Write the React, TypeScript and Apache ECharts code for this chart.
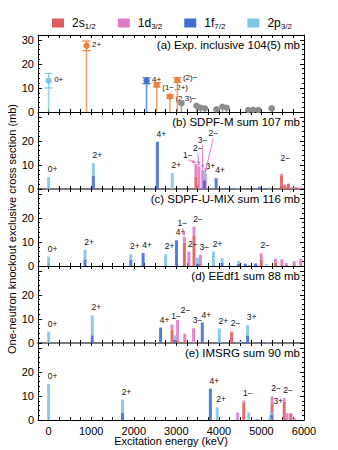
import React, { useEffect, useRef } from 'react';
import * as echarts from 'echarts';

const FONT = '"Liberation Sans", Arial, Helvetica, sans-serif';

// orbital components (stack order bottom -> top)
const COMPONENTS = ['2s1/2', '1d3/2', '1f7/2', '2p3/2'];
const COMP_COLORS = ['#de5b60', '#e07cc5', '#3f6fd6', '#7fc7e6'];
const ORANGE = '#f0803e';
const GRAY = '#8c8c8c';

// ---- panel (a): experiment ----
const expE = [0, 890, 2300, 2540, 2850, 3025, 3120, 3475, 3570, 3670, 3945, 4085, 4180, 4690, 4805, 4925, 5240];
const expVal = [13.0, 27.5, 13.0, 11.3, 6.4, 13.3, 3.6, 2.6, 1.8, 1.5, 1.1, 2.2, 1.8, 0.8, 0.9, 0.8, 1.5];
const expErr = [3.0, 2.0, 1.2, 0.9, 0.7, 1.0, 0.5, 0.5, 0.5, 0.5, 0.5, 0.5, 0.5, 0.4, 0.4, 0.4, 0.5];
const expKind = ['p', 'x', 'f', 'x', 'x', 'x', 'g', 'g', 'g', 'g', 'g', 'g', 'g', 'g', 'g', 'g', 'g'];
const expLabels = ['0+', '2+', '4+', '(1−,2+)', '(2,3)−', '(2)−', '', '', '', '', '', '', '', '', '', '', ''];

// ---- panel (b): SDPF-M ----
const sdpfmE = [0, 1050, 2555, 2905, 3460, 3530, 3620, 3660, 3680, 3935, 4170, 4440, 4640, 4950, 5180, 5470, 5550, 5635, 5730, 5805, 5900];
const sdpfmS = [0, 0, 0, 0, 5.0, 0, 0, 0, 0, 0, 0, 0, 0, 0, 0, 5.6, 1.6, 2.2, 0, 0.7, 0];
const sdpfmD = [0, 0, 0, 0, 5.5, 9.4, 8.0, 0, 6.5, 0, 0, 0, 0, 0, 0, 0.7, 0.3, 0, 0.8, 0, 0.6];
const sdpfmF = [0, 5.6, 19.6, 0, 0, 0, 0, 3.6, 0, 4.5, 0.5, 0, 0.4, 0.9, 0, 0, 0, 0, 0, 0, 0];
const sdpfmP = [5.0, 5.1, 0, 6.6, 0, 0, 0, 3.8, 0, 0, 0, 0.4, 0, 0, 0.6, 0, 0, 0, 0, 0, 0];
const sdpfmLabels = ['0+', '2+', '4+', '2+', '1−', '2−', '3−', '3+', '2−', '4+', '', '', '', '', '', '2−', '', '', '', '', ''];

// ---- panel (c): SDPF-U-MIX ----
const sdpfuE = [0, 855, 1205, 1930, 2220, 2750, 3005, 3190, 3295, 3415, 3495, 3565, 3875, 4075, 4250, 4465, 4620, 4715, 4865, 4995, 5120, 5330, 5480, 5585, 5770, 5925];
const sdpfuS = [0, 0, 0, 0, 0, 0, 0, 9.8, 0, 12.8, 0, 0.8, 0, 0, 0, 0, 0, 0, 0, 2.8, 0, 1.4, 0, 0.6, 0, 0.4];
const sdpfuD = [0, 0, 0, 0, 0, 0, 0, 2.2, 6.0, 3.6, 0, 3.8, 0, 0, 0, 0, 0, 0.4, 0, 2.5, 0, 1.6, 2.8, 0.6, 2.0, 2.6];
const sdpfuF = [0, 2.8, 0, 2.5, 5.4, 0, 10.7, 0, 0, 0, 0.8, 0, 0, 1.4, 0, 0.9, 1.0, 0, 1.1, 0, 0, 0, 0, 0, 0, 0];
const sdpfuP = [3.9, 3.9, 0.3, 2.4, 0, 4.9, 0, 0, 0, 0, 2.7, 0, 6.0, 1.8, 0.4, 1.2, 0, 0, 0, 0, 0.7, 0, 0, 0, 0, 0];
const sdpfuLabels = ['0+', '2+', '', '2+', '4+', '2+', '4+', '1−', '2−', '2−', '', '3−', '2+', '', '', '', '', '', '', '2−', '', '', '', '', '', ''];

// ---- panel (d): EEdf1 ----
const eedfE = [0, 1025, 2530, 2630, 2900, 2960, 3030, 3200, 3405, 3610, 4010, 4300, 4505, 4560, 4675, 5090, 5160];
const eedfS = [0, 0, 0, 0, 5.5, 0, 0.8, 1.2, 0, 0, 0, 4.5, 0, 0, 0, 0, 0];
const eedfD = [0, 0, 0, 0, 2.2, 0, 8.8, 2.7, 6.1, 0, 0, 0.3, 0, 0, 0, 0, 0];
const eedfF = [0, 3.2, 0, 6.4, 0, 1.3, 0, 0, 0, 8.5, 0, 0, 0, 0.4, 3.2, 0.3, 0];
const eedfP = [4.7, 8.3, 0.4, 0, 0, 1.9, 0, 0, 0, 0, 6.0, 0, 0.8, 0, 4.2, 0, 0.3];
const eedfLabels = ['0+', '2+', '', '4+', '1−', '', '2−', '', '3−', '4+', '2+', '2−', '', '', '3+', '', ''];

// ---- panel (e): IMSRG ----
const imsrgE = [0, 1735, 3800, 3960, 4440, 4585, 4700, 4895, 5200, 5230, 5250, 5535, 5600, 5690, 5770];
const imsrgS = [0, 0, 0, 0, 0, 7.3, 0, 0, 0, 0, 6.6, 7.7, 0, 2.8, 0];
const imsrgD = [0, 0, 0, 0, 3.1, 0.8, 0, 0, 0, 0, 3.2, 1.4, 2.8, 0, 0.8];
const imsrgF = [0, 3.1, 13.0, 0, 0, 0, 0, 0.3, 0, 2.0, 0, 0, 0, 0, 0];
const imsrgP = [14.9, 5.3, 0, 5.3, 0, 0, 3.1, 0, 1.1, 1.4, 0, 0, 0, 0, 0];
const imsrgLabels = ['0+', '2+', '4+', '2+', '', '1−', '', '', '', '3+', '2−', '2−', '', '', ''];

const PANEL_TITLES = [
  '(a) Exp. inclusive 104(5) mb',
  '(b) SDPF-M sum 107 mb',
  '(c) SDPF-U-MIX sum 116 mb',
  '(d) EEdf1 sum 88 mb',
  '(e) IMSRG sum 90 mb',
];
const X_TITLE = 'Excitation energy (keV)';
const Y_TITLE = 'One-neutron knockout exclusive cross section (mb)';

// ---- layout (not data) ----
const GRID_LEFT = 38;
const GRID_WIDTH = 266;
const GRID_TOPS = [35, 112, 189, 266, 343];
const GRID_H = 77;
const X_MIN = -250;
const X_MAX = 6000;
const Y_MAX = 32;
const BAR_W = 3;
const LABEL_FS = 8.5;
const EXP_LABEL_DY = [-1, -1, -1, 2.5, 1.5, -2];

type Special = { dx?: number; dy?: number; arrow?: boolean; dashed?: boolean };
const LABEL_SPECIAL: Record<number, Record<number, Special>> = {
  1: {
    4: { dx: -8, dy: -9, arrow: true },
    5: { dx: -1, dy: -18, arrow: true },
    6: { dx: 0, dy: -30, arrow: true },
    7: { dx: 6, dy: -5 },
    8: { dx: 8, dy: -40, arrow: true },
    15: { dx: 4, dy: -16 },
  },
  2: {
    7: { dx: -2, dy: -14, arrow: true, dashed: true },
  },
  3: {
    4: { dx: 4, dy: -8 },
    6: { dx: 8, dy: -10 },
  },
  4: {
    9: { dx: 7, dy: -11 },
  },
};

const THEORY = [
  { E: sdpfmE, comps: [sdpfmS, sdpfmD, sdpfmF, sdpfmP], labels: sdpfmLabels },
  { E: sdpfuE, comps: [sdpfuS, sdpfuD, sdpfuF, sdpfuP], labels: sdpfuLabels },
  { E: eedfE, comps: [eedfS, eedfD, eedfF, eedfP], labels: eedfLabels },
  { E: imsrgE, comps: [imsrgS, imsrgD, imsrgF, imsrgP], labels: imsrgLabels },
];

function kindColor(k: string) {
  if (k === 'p') return COMP_COLORS[3];
  if (k === 'f') return COMP_COLORS[2];
  if (k === 'x') return ORANGE;
  return GRAY;
}

function textStyle(text: string, x: number, y: number, fs: number, align: string) {
  return {
    text, x, y, fill: '#111', fontSize: fs, fontFamily: FONT,
    align, verticalAlign: 'middle', textAlign: align, textVerticalAlign: 'middle',
  };
}

function buildOption() {
  const grids = GRID_TOPS.map((t) => ({ left: GRID_LEFT, width: GRID_WIDTH, top: t, height: GRID_H }));
  const xAxes: any[] = [];
  const yAxes: any[] = [];
  for (let k = 0; k < 5; k++) {
    const grayBase = k === 1 || k === 3;
    const xb = { gridIndex: k, type: 'value', min: X_MIN, max: X_MAX, interval: 250, splitLine: { show: false } };
    xAxes.push({
      ...xb,
      position: 'bottom',
      axisLine: { show: true, onZero: false, lineStyle: { color: grayBase ? '#7a7a7a' : '#000', width: grayBase ? 2 : 1 } },
      axisTick: { show: true, inside: true, length: 3, lineStyle: { color: '#000' } },
      axisLabel: {
        show: k === 4,
        fontSize: 11,
        color: '#000',
        fontFamily: FONT,
        margin: 5,
        formatter: (v: number) => (v >= 0 && v % 1000 === 0 ? String(v) : ''),
      },
    });
    xAxes.push({
      ...xb,
      position: 'top',
      axisLine: { show: k === 0, onZero: false, lineStyle: { color: '#000' } },
      axisTick: { show: true, inside: true, length: 3, lineStyle: { color: '#000' } },
      axisLabel: { show: false },
    });
    const yb = {
      gridIndex: k,
      type: 'value',
      min: 0,
      max: Y_MAX,
      interval: 10,
      splitLine: { show: false },
      axisLine: { show: true, onZero: false, lineStyle: { color: '#000' } },
      axisTick: { show: true, inside: true, length: 4, lineStyle: { color: '#000' } },
      minorTick: { show: true, splitNumber: 5, length: 2, lineStyle: { color: '#000' } },
    };
    yAxes.push({
      ...yb,
      position: 'left',
      axisLabel: {
        fontSize: 11,
        color: '#000',
        fontFamily: FONT,
        margin: 4,
        formatter: (v: number) => (v === Y_MAX || (k > 0 && v === 30) ? '' : String(v)),
      },
    });
    yAxes.push({ ...yb, position: 'right', axisLabel: { show: false } });
  }

  const series: any[] = [];

  // panel (a) experiment
  series.push({
    type: 'custom',
    xAxisIndex: 0,
    yAxisIndex: 0,
    silent: true,
    clip: false,
    z: 4,
    encode: { x: 0, y: 1 },
    data: expE.map((e, i) => [e, expVal[i], expErr[i]]),
    renderItem: (params: any, api: any) => {
      const i = params.dataIndex;
      const e = api.value(0);
      const v = api.value(1);
      const er = api.value(2);
      const c = kindColor(expKind[i]);
      const p = api.coord([e, v]);
      const p0 = api.coord([e, 0]);
      const hi = api.coord([e, v + er]);
      const lo = api.coord([e, v - er]);
      const cap = expKind[i] === 'g' ? 3 : 4;
      const children: any[] = [
        { type: 'line', shape: { x1: p0[0], y1: p0[1], x2: lo[0], y2: lo[1] }, style: { stroke: c, lineWidth: 1.6, opacity: 0.75 } },
        { type: 'line', shape: { x1: lo[0], y1: lo[1], x2: hi[0], y2: hi[1] }, style: { stroke: c, lineWidth: 1.2 } },
        { type: 'line', shape: { x1: hi[0] - cap, y1: hi[1], x2: hi[0] + cap, y2: hi[1] }, style: { stroke: c, lineWidth: 1.2 } },
        { type: 'line', shape: { x1: lo[0] - cap, y1: lo[1], x2: lo[0] + cap, y2: lo[1] }, style: { stroke: c, lineWidth: 1.2 } },
        { type: 'circle', shape: { cx: p[0], cy: p[1], r: 3.2 }, style: { fill: c } },
      ];
      const t = expLabels[i];
      if (t) {
        const dy = EXP_LABEL_DY[i] ?? -1;
        children.push({ type: 'text', style: textStyle(t, p[0] + 5.5, p[1] + dy, 8, 'left') });
      }
      return { type: 'group', children };
    },
  });

  // theory panels: one custom bar series per orbital component, stacked bottom->top
  THEORY.forEach((panel, pi) => {
    const k = pi + 1;
    panel.comps.forEach((vals, ci) => {
      const data = panel.E.map((e, i) => {
        let base = 0;
        for (let c = 0; c < ci; c++) base += panel.comps[c][i];
        return [e, base, base + vals[i]];
      });
      series.push({
        type: 'custom',
        name: COMPONENTS[ci],
        xAxisIndex: 2 * k,
        yAxisIndex: 2 * k,
        silent: true,
        z: 2,
        itemStyle: { color: COMP_COLORS[ci] },
        encode: { x: 0, y: 2 },
        data,
        renderItem: (params: any, api: any) => {
          const e = api.value(0);
          const b = api.value(1);
          const t = api.value(2);
          if (t - b <= 0) return null;
          const pb = api.coord([e, b]);
          const pt = api.coord([e, t]);
          return {
            type: 'rect',
            shape: { x: pb[0] - BAR_W / 2, y: pt[1], width: BAR_W, height: pb[1] - pt[1] },
            style: { fill: COMP_COLORS[ci], opacity: 0.9 },
          };
        },
      });
    });
    const totals = panel.E.map((_, i) => panel.comps.reduce((s, arr) => s + arr[i], 0));
    const special = LABEL_SPECIAL[k] || {};
    series.push({
      type: 'custom',
      xAxisIndex: 2 * k,
      yAxisIndex: 2 * k,
      silent: true,
      clip: false,
      z: 5,
      encode: { x: 0, y: 1 },
      data: panel.E.map((e, i) => [e, totals[i]]),
      renderItem: (params: any, api: any) => {
        const i = params.dataIndex;
        const t = panel.labels[i];
        if (!t) return null;
        const pt = api.coord([api.value(0), api.value(1)]);
        const sp = special[i] || {};
        const cx = pt[0] + (sp.dx ?? 4);
        const cy = pt[1] + (sp.dy ?? -8);
        const children: any[] = [{ type: 'text', style: textStyle(t, cx, cy, LABEL_FS, 'center') }];
        if (sp.arrow) {
          const sx = cx;
          const sy = cy + 5;
          const tx = pt[0];
          const ty = pt[1] - 1;
          const ddx = tx - sx;
          const ddy = ty - sy;
          const len = Math.hypot(ddx, ddy) || 1;
          const ux = ddx / len;
          const uy = ddy / len;
          children.push({
            type: 'line',
            shape: { x1: sx, y1: sy, x2: tx, y2: ty },
            style: { stroke: COMP_COLORS[1], lineWidth: 1, lineDash: sp.dashed ? [2, 1.5] : null },
          });
          children.push({
            type: 'polygon',
            shape: {
              points: [
                [tx, ty],
                [tx - 4 * ux - 2 * uy, ty - 4 * uy + 2 * ux],
                [tx - 4 * ux + 2 * uy, ty - 4 * uy - 2 * ux],
              ],
            },
            style: { fill: COMP_COLORS[1] },
          });
        }
        return { type: 'group', children };
      },
    });
  });

  const graphic: any[] = PANEL_TITLES.map((t, k) => ({
    type: 'text',
    x: GRID_LEFT + GRID_WIDTH - 4,
    y: GRID_TOPS[k] + 10,
    z: 10,
    style: { ...textStyle(t, 0, 0, 11.5, 'right'), fill: '#000' },
  }));
  graphic.push({
    type: 'text',
    x: GRID_LEFT + GRID_WIDTH / 2,
    y: 441,
    style: { ...textStyle(X_TITLE, 0, 0, 11, 'center'), fill: '#000' },
  });
  graphic.push({
    type: 'text',
    x: 12,
    y: 229,
    rotation: Math.PI / 2,
    style: { ...textStyle(Y_TITLE, 0, 0, 11, 'center'), fill: '#000' },
  });

  return {
    animation: false,
    backgroundColor: '#fff',
    grid: grids,
    xAxis: xAxes,
    yAxis: yAxes,
    legend: {
      top: 12,
      left: 47,
      itemWidth: 12,
      itemHeight: 9,
      itemGap: 22,
      icon: 'rect',
      selectedMode: false,
      data: COMPONENTS.map((n, i) => ({ name: n, itemStyle: { color: COMP_COLORS[i] } })),
      formatter: (n: string) => n.replace(/^(\d[a-z])(.+)$/, '$1{sub|$2}'),
      textStyle: {
        fontSize: 12,
        color: '#000',
        fontFamily: FONT,
        padding: [0, 0, 0, 3],
        rich: {
          sub: { fontSize: 8, fontFamily: FONT, color: '#000', verticalAlign: 'bottom', padding: [6, 0, 0, 0] },
        },
      },
    },
    graphic,
    series,
  };
}

export default function App() {
  const ref = useRef<HTMLDivElement>(null);
  useEffect(() => {
    const chart = echarts.init(ref.current as HTMLDivElement, null, { renderer: 'svg' });
    chart.setOption(buildOption() as any);
    return () => chart.dispose();
  }, []);
  return <div ref={ref} style={{ position: 'absolute', left: 0, top: 0, width: 338, height: 450, background: '#fff' }} />;
}
